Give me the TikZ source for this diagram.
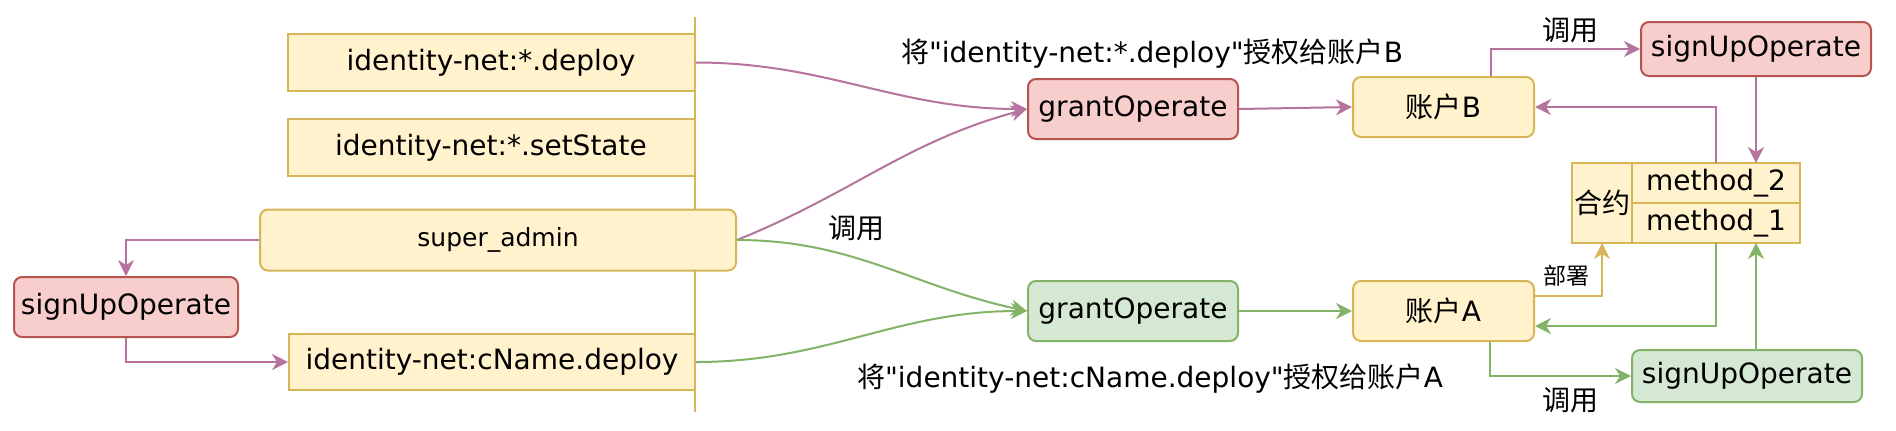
\documentclass[tikz,border=0pt]{standalone}
\usepackage{fontspec}
\setmainfont{DejaVu Sans}[Ligatures=TeXOff]
\newfontfamily\cjk{Noto Sans CJK SC}
\usetikzlibrary{arrows.meta, positioning, calc}
\definecolor{yfill}{HTML}{FFF2CC}
\definecolor{ydraw}{HTML}{D6B656}
\definecolor{rfill}{HTML}{F8CECC}
\definecolor{rdraw}{HTML}{B85450}
\definecolor{gfill}{HTML}{D5E8D4}
\definecolor{gdraw}{HTML}{82B366}
\definecolor{purp}{HTML}{B5739D}

\begin{document}
\begin{tikzpicture}[x=0.5pt, y=-0.5pt,
  font=\fontsize{14}{16}\selectfont,
  ybox/.style={draw=ydraw, fill=yfill, line width=1pt, inner sep=0pt,
               minimum width=203.5pt, minimum height=28.5pt},
  rbox/.style={draw=rdraw, fill=rfill, line width=1pt, rounded corners=4pt, inner sep=0pt},
  gbox/.style={draw=gdraw, fill=gfill, line width=1pt, rounded corners=4pt, inner sep=0pt},
  acct/.style={draw=ydraw, fill=yfill, line width=1pt, rounded corners=4pt, inner sep=0pt,
               minimum width=90.5pt, minimum height=30pt},
  cell/.style={draw=ydraw, fill=yfill, line width=1pt, inner sep=0pt, outer sep=0pt,
               minimum width=84pt, minimum height=20pt},
  arrow/.style={-{Stealth[length=8pt, width=8pt, inset=2.5pt]}, line width=1pt}]

  \useasboundingbox (0,0) rectangle (1896,430);

  \coordinate (ltop) at (695,17);
  \coordinate (lbot) at (695,412);
  \draw[ydraw, line width=0.8pt] (ltop) -- (lbot);

  \node[ybox] (dep) at (491,62.5) {identity-net:*.deploy};
  \node[ybox, below=13pt of dep] (set) {identity-net:*.setState};
  \node[ybox, rounded corners=4pt, minimum width=238pt, minimum height=30.5pt,
        font=\fontsize{12.5}{15}\selectfont] (sa) at (498,240) {super\_admin};
  \node[rbox, minimum width=112pt, minimum height=30pt] (sul) at (126,307) {signUpOperate};
  \node[ybox, minimum width=203pt, minimum height=28pt] (cn) at (492,362) {identity-net:cName.deploy};

  \node[rbox, minimum width=105pt, minimum height=30pt] (gr) at (1133,109) {grantOperate};
  \node[gbox, minimum width=105pt, minimum height=30pt] (gg) at (1133,311) {grantOperate};
  \node[acct] (ab) at (1443.5,107) {{\cjk 账户}B};
  \node[acct] (aa) at (1443.5,311) {{\cjk 账户}A};
  \node[rbox, minimum width=115pt, minimum height=27pt] (sur) at (1756,49) {signUpOperate};
  \node[gbox, minimum width=115pt, minimum height=26pt] (sug) at (1747,376) {signUpOperate};

  \node[cell] (m2) at (1716,183) {method\_2};
  \node[cell, below=0pt of m2] (m1) {method\_1};
  \node[cell, minimum width=30pt, minimum height=40pt, anchor=north east,
        font=\cjk\fontsize{14}{16}\selectfont] (kw) at (m2.north west) {合约};

  \node (lb) at (1152,54) {{\cjk 将}"identity-net:*.deploy"{\cjk 授权给账户}B};
  \node (la) at (1150,379) {{\cjk 将}"identity-net:cName.deploy"{\cjk 授权给账户}A};
  \node[font=\cjk\fontsize{14}{16}\selectfont] (c1) at (856,228) {调用};
  \node[font=\cjk\fontsize{14}{16}\selectfont] (c2) at (1570,30) {调用};
  \node[font=\cjk\fontsize{14}{16}\selectfont] (c3) at (1570,400) {调用};
  \node[font=\cjk\fontsize{11.5}{13}\selectfont] (dp) at (1566,276) {部署};

  \draw[arrow, purp] (sa.west) -| (sul.north);
  \draw[arrow, purp] (sul.south) |- (cn.west);
  \draw[arrow, purp] (dep.east) to[out=0, in=180] (gr.west);
  \draw[arrow, purp] (sa.east) to[out=22, in=195] (gr.west);
  \draw[arrow, gdraw] (sa.east) to[out=0, in=168] (gg.west);
  \draw[arrow, gdraw] (cn.east) to[out=0, in=180] (gg.west);
  \draw[arrow, purp] (gr.east) -- (ab.west);
  \draw[arrow, gdraw] (gg.east) -- (aa.west);

  \draw[arrow, purp] ($(ab.north)+(47,0)$) |- (sur.west);
  \draw[arrow, purp] (sur.south) -- (sur.south |- m2.north);
  \draw[arrow, purp] (m2.north) |- (ab.east);
  \draw[arrow, ydraw] ($(aa.east)+(0,-15)$) -| (kw.south);
  \draw[arrow, gdraw] (m1.south) |- ($(aa.east)+(0,15)$);
  \draw[arrow, gdraw] ($(aa.south)+(46,0)$) |- (sug.west);
  \draw[arrow, gdraw] (sug.north -| sur.south) -- (m1.south -| sur.south);
\end{tikzpicture}
\end{document}
